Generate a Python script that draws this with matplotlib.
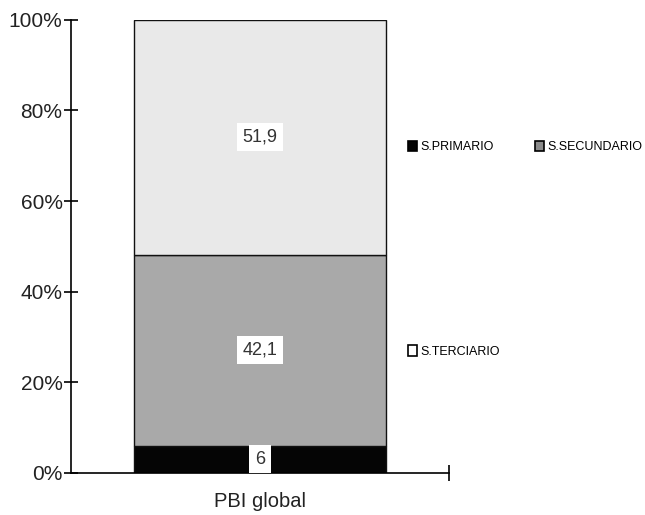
import matplotlib.pyplot as plt
from matplotlib.patches import Patch

plt.rcParams['font.family'] = ['Liberation Sans', 'DejaVu Sans']

# data
category = "PBI global"
sectors = ["S.PRIMARIO", "S.SECUNDARIO", "S.TERCIARIO"]
values = [6, 42.1, 51.9]
labels = ["6", "42,1", "51,9"]
colors = ["#050505", "#a9a9a9", "#e9e9e9"]
legend_colors = ["#050505", "#8a8a8a", "#ffffff"]

fig = plt.figure(figsize=(6.45, 5.15), dpi=100)
ax = fig.add_axes([0.110, 0.0816, 0.586, 0.880])

bottom = 0
for val, lab, col in zip(values, labels, colors):
    ax.bar(0, val, bottom=bottom, width=1.0, color=col, edgecolor="#111111", linewidth=1.0)
    ax.text(0, bottom + val / 2, lab, ha="center", va="center", fontsize=13, color="#333333",
            bbox=dict(facecolor="white", edgecolor="none", pad=4))
    bottom += val

ax.set_xlim(-0.75, 0.75)
ax.set_ylim(0, 100)
ax.set_yticks([0, 20, 40, 60, 80, 100])
ax.set_yticklabels([f"{t}%" for t in [0, 20, 40, 60, 80, 100]], fontsize=15, color="#222222")
ax.tick_params(axis="y", direction="inout", length=10, width=1.2, pad=1)
ax.set_xticks([0.75])
ax.set_xticklabels([""])
ax.tick_params(axis="x", direction="inout", length=12, width=1.2)
ax.set_xlabel(category, fontsize=14.5, labelpad=4, color="#222222")
ax.spines["top"].set_visible(False)
ax.spines["right"].set_visible(False)
ax.spines["left"].set_linewidth(1.2)
ax.spines["bottom"].set_linewidth(1.2)

handles = [Patch(facecolor=c, edgecolor="black", linewidth=1.2, label=s)
           for c, s in zip(legend_colors, sectors)]
leg1 = fig.legend(handles=handles[:2], loc="center left", bbox_to_anchor=(0.615, 0.715),
                  ncol=2, frameon=False, fontsize=9, handlelength=0.7, handleheight=0.9,
                  handletextpad=0.3, columnspacing=3.3)
leg2 = fig.legend(handles=handles[2:], loc="center left", bbox_to_anchor=(0.615, 0.317),
                  frameon=False, fontsize=9, handlelength=0.7, handleheight=0.9,
                  handletextpad=0.3)

fig.savefig("out.png", dpi=100)
